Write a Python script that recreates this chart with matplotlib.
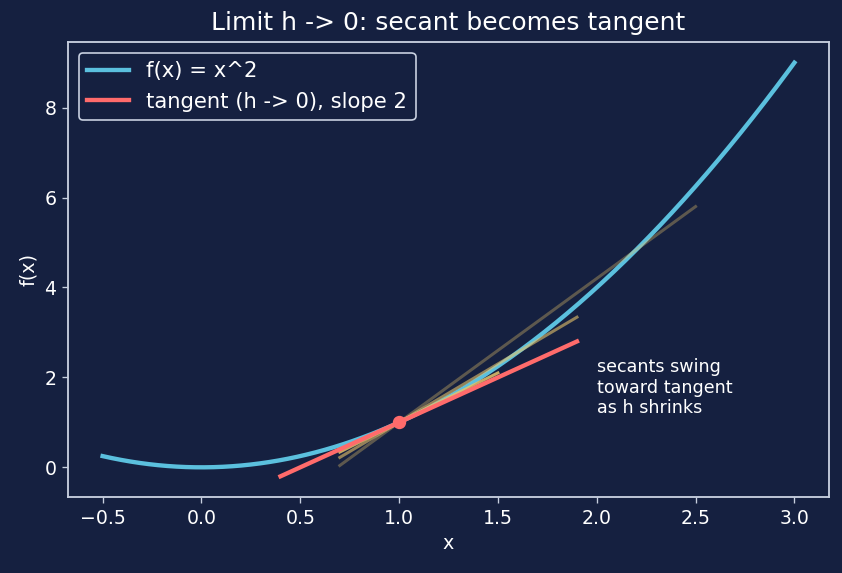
import matplotlib
matplotlib.use("Agg")
import matplotlib.pyplot as plt
import numpy as np

BG = "#152040"
FG = "#c8d0e0"

x_lo, x_hi = -0.5, 3.0
x0 = 1.0
hs = [1.2, 0.6, 0.2]
secant_alphas = [0.35, 0.6, 0.85]
tangent_x = [0.4, 1.9]

plt.rcParams.update({
    "figure.facecolor": BG, "axes.facecolor": BG,
    "axes.edgecolor": FG, "text.color": "white",
    "axes.labelcolor": "white", "xtick.color": FG, "ytick.color": FG,
    "xtick.labelcolor": "white", "ytick.labelcolor": "white",
    "xtick.labelsize": 11.3, "ytick.labelsize": 11.3,
    "axes.labelsize": 11.5, "axes.linewidth": 1.1,
})

def f(x):
    return x ** 2

fig, ax = plt.subplots(figsize=(842 / 120, 573 / 120), dpi=120)

xs = np.linspace(x_lo, x_hi, 300)
ax.plot(xs, f(xs), color="#5bc0de", lw=2.6, label="f(x) = x^2")

for h, a in zip(hs, secant_alphas):
    slope = (f(x0 + h) - f(x0)) / h
    sx = np.array([x0 - 0.3, x0 + h + 0.3])
    ax.plot(sx, f(x0) + slope * (sx - x0), color="#e6c36a", lw=1.8, alpha=a)

tx = np.array(tangent_x)
ax.plot(tx, f(x0) + 2 * x0 * (tx - x0), color="#ff6b6b", lw=2.6,
        label="tangent (h -> 0), slope 2")
ax.plot([x0], [f(x0)], "o", color="#ff6b6b", ms=7)

ax.text(2.0, 1.2, "secants swing\ntoward tangent\nas h shrinks", fontsize=10.5,
        color="white")

ax.set_title("Limit h -> 0: secant becomes tangent", fontsize=15, pad=7)
ax.set_xlabel("x")
ax.set_ylabel("f(x)")
leg = ax.legend(loc="upper left", facecolor=BG, edgecolor=FG, framealpha=1,
                fontsize=12.7)
for t in leg.get_texts():
    t.set_color("white")

fig.subplots_adjust(left=68 / 842, right=829 / 842, top=1 - 42 / 573,
                    bottom=1 - 497 / 573)
fig.savefig("out.png", dpi=120)
